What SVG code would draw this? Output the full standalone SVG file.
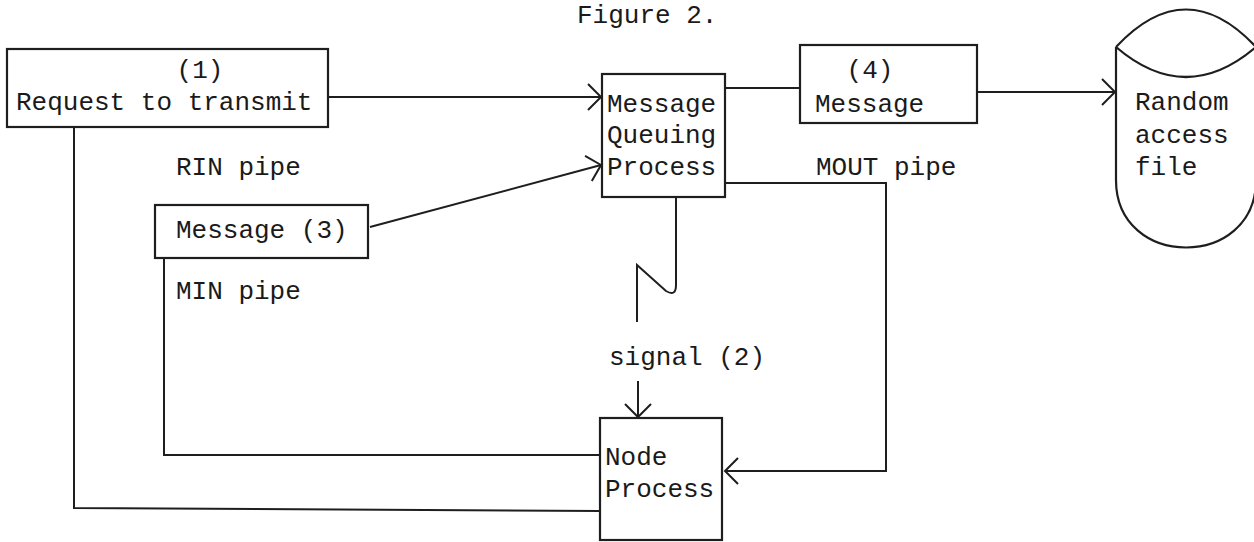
<svg xmlns="http://www.w3.org/2000/svg" width="1254" height="542" viewBox="0 0 1254 542">
<style>
.b{fill:none;stroke:#1e1e1e;stroke-width:2.2}
.l{fill:none;stroke:#1e1e1e;stroke-width:2}
.t{font-family:"Liberation Mono","Courier New",monospace;font-size:26px;fill:#1a1a1a}
</style>
<defs>
<marker id="ah" markerUnits="userSpaceOnUse" markerWidth="30" markerHeight="30" refX="0" refY="0" viewBox="-16 -15 18 30" orient="auto" overflow="visible">
<path d="M-13,-13 L0,0 L-13,13" fill="none" stroke="#1e1e1e" stroke-width="2"/>
</marker>
</defs>
<rect width="1254" height="542" fill="#ffffff"/>
<text class="t" x="577" y="23">Figure 2.</text>
<g id="connectors">
<path class="l" d="M328,97 L601,97" marker-end="url(#ah)"/>
<path class="l" d="M370,227 L601,165" marker-end="url(#ah)"/>
<path class="l" d="M725,88 L800,88"/>
<path class="l" d="M978,92 L1115,92" marker-end="url(#ah)"/>
<path class="l" d="M725,183 L886,183 L886,471 L725,471" marker-end="url(#ah)"/>
<path class="l" d="M676,197 L676,285 Q676,297 666,291 L637,265 L637,322"/>
<path class="l" d="M638,381 L638,417" marker-end="url(#ah)"/>
<path class="l" d="M164,258 L164,455 L600,455"/>
<path class="l" d="M74,127 L74,508 L600,511"/>
</g>
<g id="request">
<rect class="b" x="7" y="49" width="321" height="78"/>
<text class="t" x="200" y="78" text-anchor="middle">(1)</text>
<text class="t" x="16" y="110">Request to transmit</text>
</g>
<g id="mqp">
<rect class="b" x="602" y="74" width="123" height="123"/>
<text class="t" x="607" y="112">Message</text>
<text class="t" x="607" y="143">Queuing</text>
<text class="t" x="607" y="175">Process</text>
</g>
<g id="message4">
<rect class="b" x="800" y="45" width="177" height="78"/>
<text class="t" x="870" y="78" text-anchor="middle">(4)</text>
<text class="t" x="815" y="112">Message</text>
</g>
<g id="file">
<path class="b" d="M1116,47 Q1186,-28 1256,47 M1116,47 Q1186,107 1256,47 M1116,47 L1116,180 C1116,270 1256,270 1256,180 L1256,47"/>
<text class="t" x="1135" y="110">Random</text>
<text class="t" x="1135" y="143">access</text>
<text class="t" x="1135" y="175">file</text>
</g>
<g id="message3">
<rect class="b" x="155" y="205" width="213" height="53"/>
<text class="t" x="176" y="238">Message (3)</text>
</g>
<g id="node">
<rect class="b" x="600" y="418" width="122" height="122"/>
<text class="t" x="605" y="465">Node</text>
<text class="t" x="605" y="497">Process</text>
</g>
<g id="labels">
<text class="t" x="176" y="175">RIN pipe</text>
<text class="t" x="176" y="299">MIN pipe</text>
<text class="t" x="816" y="175">MOUT pipe</text>
<text class="t" x="609" y="365">signal (2)</text>
</g>
</svg>
